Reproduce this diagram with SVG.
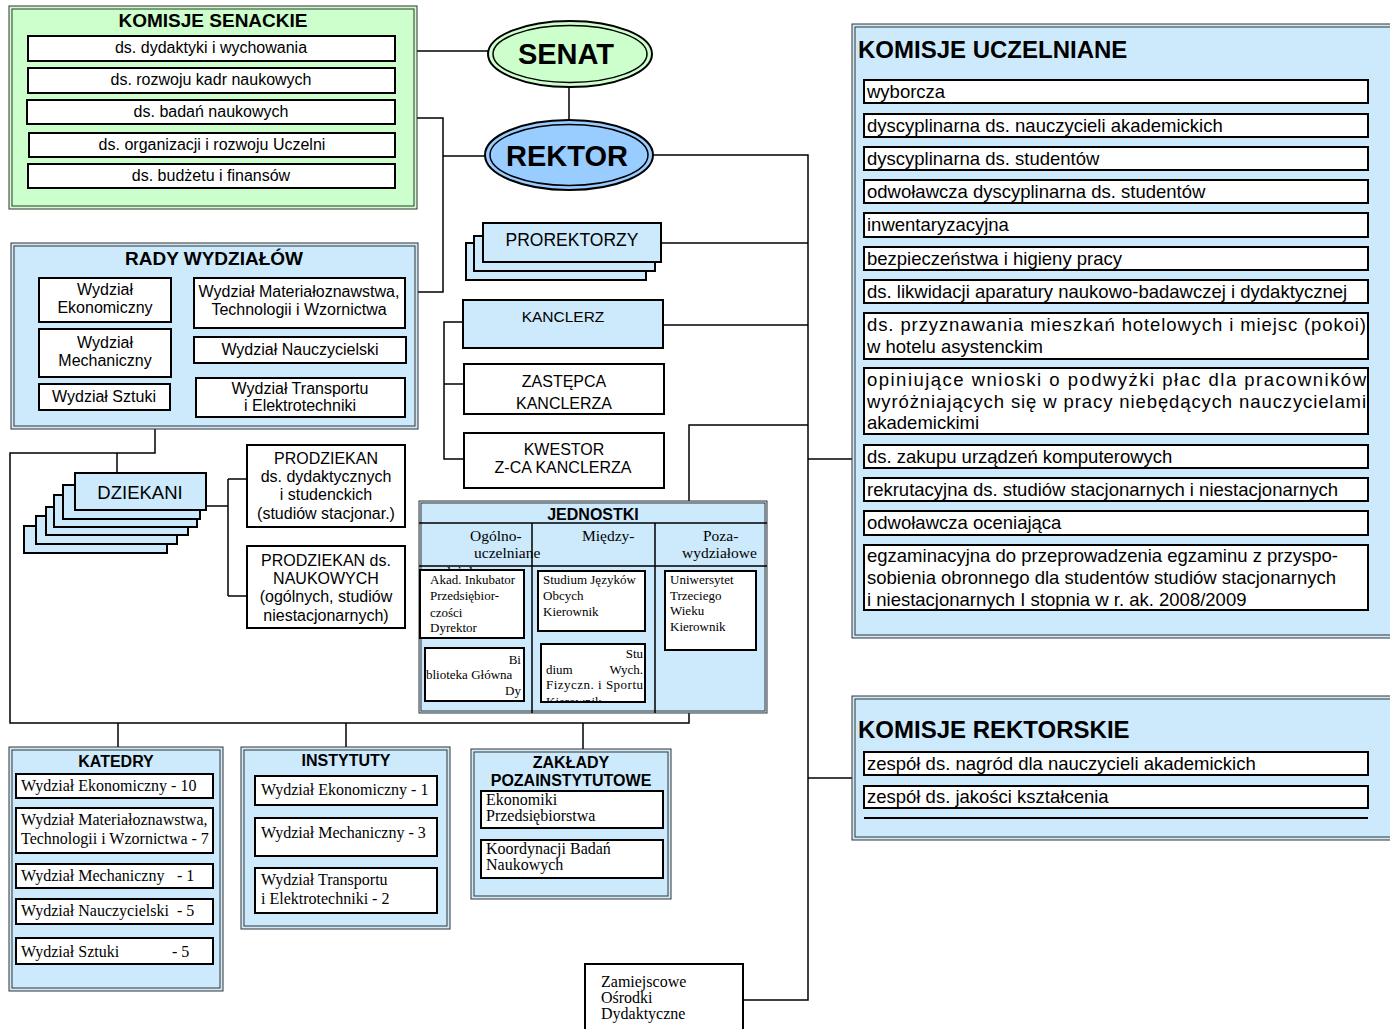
<svg xmlns="http://www.w3.org/2000/svg" width="1390" height="1029" viewBox="0 0 1390 1029" xml:space="preserve">
<defs>
<style>
.box{fill:#fff;stroke:#000;stroke-width:2}
.blue{fill:#cdeafc;stroke:#000;stroke-width:2}
.o1{stroke:#333;stroke-width:1}
.o2{fill:none;stroke:#333;stroke-width:1}
.ln{fill:none;stroke:#000;stroke-width:1.5}
.a{font-family:"Liberation Sans",Arial,sans-serif;fill:#000}
.b{font-family:"Liberation Sans",Arial,sans-serif;font-weight:bold;fill:#000}
.s{font-family:"Liberation Serif","Times New Roman",serif;fill:#000}
.f15{font-size:15px}
.f16{font-size:16px}
.f18{font-size:18.5px}
.j{font-size:13px}
.c{text-anchor:middle}
.e{text-anchor:end}
</style>
<clipPath id="clipW"><rect x="420" y="566" width="110" height="4"/></clipPath>
<clipPath id="clipSW"><rect x="541" y="644" width="104" height="58"/></clipPath>
</defs>

<g id="connectors">
<path class="ln" d="M417 51H488"/>
<path class="ln" d="M569 87V119"/>
<path class="ln" d="M417 118H443V292H417"/>
<path class="ln" d="M443 156H485"/>
<path class="ln" d="M653 155H808V1000H743"/>
<path class="ln" d="M661 243H808"/>
<path class="ln" d="M663 325H808"/>
<path class="ln" d="M808 425H689V501"/>
<path class="ln" d="M808 459H852"/>
<path class="ln" d="M808 778H852"/>
<path class="ln" d="M463 322H444V459H464"/>
<path class="ln" d="M444 384H464"/>
<path class="ln" d="M155 429V453H10V723H689V713"/>
<path class="ln" d="M117 453V473"/>
<path class="ln" d="M118 723V747"/>
<path class="ln" d="M346 723V747"/>
<path class="ln" d="M583 723V749"/>
<path class="ln" d="M206 506H228"/>
<path class="ln" d="M228 479V596"/>
<path class="ln" d="M228 479H247"/>
<path class="ln" d="M228 596H247"/>
</g>

<g id="komisje-senackie">
<rect x="9" y="6" width="408" height="203" fill="#ccffcc" class="o1"/>
<rect x="12" y="9" width="402" height="197" class="o2"/>
<text x="213" y="27" class="b c" font-size="19">KOMISJE  SENACKIE</text>
<rect x="28" y="36" width="367" height="25" class="box"/>
<text x="211" y="53" class="a c f16">ds. dydaktyki i wychowania</text>
<rect x="28" y="68" width="367" height="25" class="box"/>
<text x="211" y="85" class="a c f16">ds. rozwoju kadr naukowych</text>
<rect x="27" y="100" width="368" height="24" class="box"/>
<text x="211" y="117" class="a c f16">ds. badań naukowych</text>
<rect x="29" y="133" width="366" height="24" class="box"/>
<text x="212" y="150" class="a c f16">ds. organizacji i rozwoju Uczelni</text>
<rect x="28" y="164" width="367" height="24" class="box"/>
<text x="211" y="181" class="a c f16">ds. budżetu i finansów</text>
</g>

<g id="senat">
<ellipse cx="570" cy="54" rx="82" ry="33" fill="#ccffcc" stroke="#000" stroke-width="2"/>
<ellipse cx="570" cy="54" rx="77" ry="28.5" fill="none" stroke="#000" stroke-width="1.5"/>
<text x="566" y="64" class="b c" font-size="29">SENAT</text>
</g>

<g id="rektor">
<ellipse cx="569" cy="155" rx="84" ry="35" fill="#99ccff" stroke="#000" stroke-width="2"/>
<ellipse cx="569" cy="155" rx="79" ry="30.5" fill="none" stroke="#000" stroke-width="1.5"/>
<text x="567" y="166" class="b c" font-size="29">REKTOR</text>
</g>

<g id="rady-wydzialow">
<rect x="11" y="243" width="407" height="186" fill="#cdeafc" class="o1"/>
<rect x="14" y="246" width="401" height="180" class="o2"/>
<text x="214" y="265" class="b c" font-size="19">RADY  WYDZIAŁÓW</text>
<rect x="39" y="278" width="132" height="44" class="box"/>
<text x="105" y="295" class="a c f16">Wydział</text>
<text x="105" y="313" class="a c f16">Ekonomiczny</text>
<rect x="39" y="329" width="132" height="48" class="box"/>
<text x="105" y="348" class="a c f16">Wydział</text>
<text x="105" y="366" class="a c f16">Mechaniczny</text>
<rect x="39" y="384" width="131" height="26" class="box"/>
<text x="104" y="402" class="a c f16">Wydział Sztuki</text>
<rect x="194" y="278" width="211" height="50" class="box"/>
<text x="299" y="297" class="a c f16">Wydział Materiałoznawstwa,</text>
<text x="299" y="315" class="a c f16">Technologii i Wzornictwa</text>
<rect x="194" y="337" width="212" height="26" class="box"/>
<text x="300" y="355" class="a c f16">Wydział  Nauczycielski</text>
<rect x="196" y="378" width="209" height="39" class="box"/>
<text x="300" y="394" class="a c f16">Wydział Transportu</text>
<text x="300" y="411" class="a c f16">i Elektrotechniki</text>
</g>

<g id="prorektorzy">
<rect x="466" y="243" width="180" height="37" class="blue"/>
<rect x="474" y="236" width="181" height="35" class="blue"/>
<rect x="483" y="223" width="178" height="39" class="blue"/>
<text x="572" y="246" class="a c" font-size="17.5">PROREKTORZY</text>
</g>

<g id="kanclerz">
<rect x="463" y="300" width="200" height="48" class="blue"/>
<text x="563" y="322" class="a c" font-size="15.5">KANCLERZ</text>
</g>

<g id="zastepca-kanclerza">
<rect x="464" y="364" width="200" height="50" class="box"/>
<text x="564" y="387" class="a c f16">ZASTĘPCA</text>
<text x="564" y="409" class="a c f16">KANCLERZA</text>
</g>

<g id="kwestor">
<rect x="464" y="433" width="200" height="55" class="box"/>
<text x="564" y="455" class="a c f16">KWESTOR</text>
<text x="563" y="473" class="a c f16">Z-CA  KANCLERZA</text>
</g>

<g id="dziekani">
<rect x="24" y="526" width="143" height="27" class="blue"/>
<rect x="36" y="516" width="141" height="28" class="blue"/>
<rect x="46" y="507" width="142" height="28" class="blue"/>
<rect x="54" y="495" width="143" height="32" class="blue"/>
<rect x="63" y="485" width="137" height="34" class="blue"/>
<rect x="75" y="473" width="131" height="37" class="blue"/>
<text x="140" y="499" class="a c" font-size="18.5">DZIEKANI</text>
</g>

<g id="prodziekan-dydaktyka">
<rect x="247" y="445" width="158" height="82" class="box"/>
<text x="326" y="464" class="a c f16">PRODZIEKAN</text>
<text x="326" y="482" class="a c f16">ds. dydaktycznych</text>
<text x="326" y="500" class="a c f16">i studenckich</text>
<text x="326" y="519" class="a c f16">(studiów stacjonar.)</text>
</g>

<g id="prodziekan-nauka">
<rect x="247" y="546" width="158" height="82" class="box"/>
<text x="326" y="566" class="a c f16">PRODZIEKAN ds.</text>
<text x="326" y="584" class="a c f16">NAUKOWYCH</text>
<text x="326" y="602" class="a c f16">(ogólnych, studiów</text>
<text x="326" y="621" class="a c f16">niestacjonarnych)</text>
</g>

<g id="jednostki">
<rect x="419" y="501" width="348" height="212" fill="#cdeafc" class="o1"/>
<rect x="421" y="503" width="344" height="208" class="o2"/>
<path class="ln" d="M419 523H767M419 566H767M532 523V713M655 523V713"/>
<text x="593" y="520" class="b c f16">JEDNOSTKI</text>
<text x="470" y="541" class="s" font-size="15.5">Ogólno-</text>
<text x="474" y="558" class="s" font-size="15.5">uczelniane</text>
<text x="582" y="541" class="s" font-size="15.5">Między-</text>
<text x="703" y="541" class="s" font-size="15.5">Poza-</text>
<text x="682" y="558" class="s" font-size="15.5">wydziałowe</text>
<text x="424" y="577" class="s" font-size="15.5" clip-path="url(#clipW)">wydziałowe</text>
<rect x="420" y="570" width="104" height="68" class="box"/>
<text x="430" y="584" class="s j">Akad. Inkubator</text>
<text x="430" y="600" class="s j">Przedsiębior-</text>
<text x="430" y="617" class="s j">czości</text>
<text x="430" y="632" class="s j">Dyrektor</text>
<rect x="425" y="648" width="99" height="53" class="box"/>
<text x="521" y="664" class="s e j">Bi</text>
<text x="426" y="679" class="s j">blioteka Główna</text>
<text x="521" y="695" class="s e j">Dy</text>
<rect x="538" y="571" width="107" height="60" class="box"/>
<text x="543" y="584" class="s j">Studium Języków</text>
<text x="543" y="600" class="s j">Obcych</text>
<text x="543" y="616" class="s j">Kierownik</text>
<rect x="541" y="644" width="104" height="58" fill="#fff"/>
<g clip-path="url(#clipSW)">
<text x="643" y="658" class="s e j">Stu</text>
<text x="546" y="674" class="s j">dium</text>
<text x="643" y="674" class="s e j">Wych.</text>
<text x="546" y="689" class="s j" textLength="97" lengthAdjust="spacing">Fizyczn. i Sportu</text>
<text x="546" y="706" class="s j">Kierownik</text>
</g>
<rect x="541" y="644" width="104" height="58" fill="none" stroke="#000" stroke-width="2"/>
<rect x="665" y="571" width="91" height="79" class="box"/>
<text x="670" y="584" class="s j">Uniwersytet</text>
<text x="670" y="600" class="s j">Trzeciego</text>
<text x="670" y="615" class="s j">Wieku</text>
<text x="670" y="631" class="s j">Kierownik</text>
</g>

<g id="katedry">
<rect x="9" y="747" width="214" height="244" fill="#cdeafc" class="o1"/>
<rect x="12" y="750" width="208" height="238" class="o2"/>
<text x="116" y="767" class="b c f16">KATEDRY</text>
<rect x="16" y="774" width="197" height="24" class="box"/>
<text x="21" y="791" class="s f16">Wydział Ekonomiczny - 10</text>
<rect x="16" y="808" width="197" height="45" class="box"/>
<text x="21" y="825" class="s f16">Wydział Materiałoznawstwa,</text>
<text x="21" y="844" class="s f16">Technologii i Wzornictwa - 7</text>
<rect x="16" y="864" width="197" height="24" class="box"/>
<text x="21" y="881" class="s f16">Wydział Mechaniczny</text>
<text x="177" y="881" class="s f16">- 1</text>
<rect x="16" y="899" width="197" height="25" class="box"/>
<text x="21" y="916" class="s f16">Wydział Nauczycielski</text>
<text x="177" y="916" class="s f16">- 5</text>
<rect x="16" y="938" width="197" height="26" class="box"/>
<text x="21" y="957" class="s f16">Wydział Sztuki</text>
<text x="172" y="957" class="s f16">- 5</text>
</g>

<g id="instytuty">
<rect x="241" y="747" width="209" height="182" fill="#cdeafc" class="o1"/>
<rect x="244" y="750" width="203" height="176" class="o2"/>
<text x="346" y="766" class="b c f16">INSTYTUTY</text>
<rect x="255" y="776" width="182" height="29" class="box"/>
<text x="261" y="795" class="s f16">Wydział Ekonomiczny - 1</text>
<rect x="255" y="818" width="182" height="38" class="box"/>
<text x="261" y="838" class="s f16">Wydział Mechaniczny - 3</text>
<rect x="255" y="868" width="182" height="45" class="box"/>
<text x="261" y="885" class="s f16">Wydział Transportu</text>
<text x="261" y="904" class="s f16">i Elektrotechniki - 2</text>
</g>

<g id="zaklady-pozainstytutowe">
<rect x="471" y="749" width="200" height="150" fill="#cdeafc" class="o1"/>
<rect x="474" y="752" width="194" height="144" class="o2"/>
<text x="571" y="768" class="b c f16">ZAKŁADY</text>
<text x="571" y="786" class="b c f16">POZAINSTYTUTOWE</text>
<rect x="481" y="791" width="182" height="37" class="box"/>
<text x="486" y="805" class="s f16">Ekonomiki</text>
<text x="486" y="821" class="s f16">Przedsiębiorstwa</text>
<rect x="481" y="840" width="182" height="38" class="box"/>
<text x="486" y="854" class="s f16">Koordynacji Badań</text>
<text x="486" y="870" class="s f16">Naukowych</text>
</g>

<g id="zamiejscowe-osrodki">
<rect x="585" y="964" width="158" height="80" class="box"/>
<text x="601" y="987" class="s f16">Zamiejscowe</text>
<text x="601" y="1003" class="s f16">Ośrodki</text>
<text x="601" y="1019" class="s f16">Dydaktyczne</text>
</g>

<g id="komisje-uczelniane">
<rect x="852" y="24" width="545" height="614" fill="#cdeafc" class="o1"/>
<rect x="855" y="27" width="545" height="608" class="o2"/>
<text x="858" y="58" class="b" font-size="24">KOMISJE  UCZELNIANE</text>
<rect x="864" y="80" width="504" height="23" class="box"/>
<text x="867" y="98" class="a f18">wyborcza</text>
<rect x="864" y="114" width="504" height="23" class="box"/>
<text x="867" y="132" class="a f18">dyscyplinarna ds. nauczycieli akademickich</text>
<rect x="864" y="147" width="504" height="23" class="box"/>
<text x="867" y="165" class="a f18">dyscyplinarna ds. studentów</text>
<rect x="864" y="180" width="504" height="23" class="box"/>
<text x="867" y="198" class="a f18">odwoławcza dyscyplinarna ds. studentów</text>
<rect x="864" y="213" width="504" height="24" class="box"/>
<text x="867" y="231" class="a f18">inwentaryzacyjna</text>
<rect x="864" y="247" width="504" height="23" class="box"/>
<text x="867" y="265" class="a f18">bezpieczeństwa i higieny pracy</text>
<rect x="864" y="280" width="504" height="23" class="box"/>
<text x="867" y="298" class="a f18">ds. likwidacji aparatury naukowo-badawczej i dydaktycznej</text>
<rect x="864" y="313" width="504" height="46" class="box"/>
<text x="867" y="331" class="a f18" textLength="499" lengthAdjust="spacing">ds. przyznawania mieszkań hotelowych i miejsc (pokoi)</text>
<text x="867" y="353" class="a f18">w hotelu asystenckim</text>
<rect x="864" y="368" width="504" height="66" class="box"/>
<text x="867" y="386" class="a f18" textLength="499" lengthAdjust="spacing">opiniujące  wnioski o podwyżki płac dla pracowników</text>
<text x="867" y="408" class="a f18" textLength="499" lengthAdjust="spacing">wyróżniających się w pracy niebędących nauczycielami</text>
<text x="867" y="429" class="a f18">akademickimi</text>
<rect x="864" y="445" width="504" height="23" class="box"/>
<text x="867" y="463" class="a f18">ds. zakupu urządzeń komputerowych</text>
<rect x="864" y="478" width="504" height="23" class="box"/>
<text x="867" y="496" class="a f18">rekrutacyjna ds. studiów stacjonarnych i niestacjonarnych</text>
<rect x="864" y="511" width="504" height="24" class="box"/>
<text x="867" y="529" class="a f18">odwoławcza oceniająca</text>
<rect x="864" y="545" width="504" height="65" class="box"/>
<text x="867" y="562" class="a f18">egzaminacyjna do przeprowadzenia egzaminu z przyspo-</text>
<text x="867" y="584" class="a f18">sobienia obronnego dla studentów studiów stacjonarnych</text>
<text x="867" y="606" class="a f18">i niestacjonarnych I stopnia w r. ak. 2008/2009</text>
</g>

<g id="komisje-rektorskie">
<rect x="852" y="696" width="545" height="144" fill="#cdeafc" class="o1"/>
<rect x="855" y="699" width="545" height="138" class="o2"/>
<text x="858" y="738" class="b" font-size="24">KOMISJE  REKTORSKIE</text>
<rect x="864" y="752" width="504" height="23" class="box"/>
<text x="867" y="770" class="a f18">zespół ds. nagród dla nauczycieli akademickich</text>
<rect x="864" y="786" width="504" height="22" class="box"/>
<text x="867" y="803" class="a f18">zespół ds. jakości kształcenia</text>
<path d="M864 818H1368" stroke="#000" stroke-width="2"/>
</g>
</svg>
